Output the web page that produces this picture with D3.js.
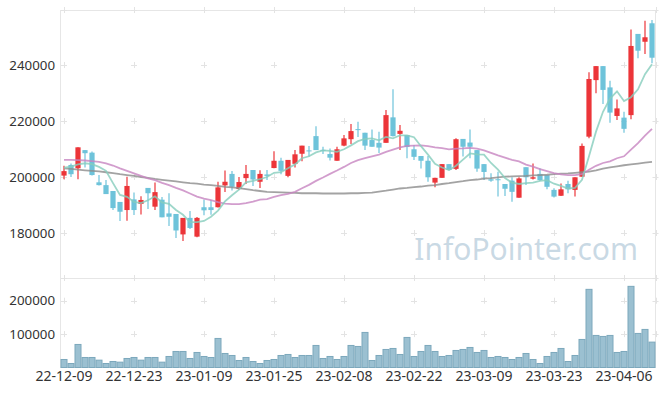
<!DOCTYPE html>
<html>
<head>
<meta charset="utf-8">
<script src="https://cdn.jsdelivr.net/npm/d3@7/dist/d3.min.js"></script>
<style>
body { margin: 0; background: #fff; }
svg { display: block; font-family: "Noto Sans", "DejaVu Sans", sans-serif; }
</style>
</head>
<body>
<svg width="665" height="396"></svg>
<script>
// trading days shown on the chart
var dates = ["22-12-09","22-12-12","22-12-13","22-12-14","22-12-15","22-12-16","22-12-19","22-12-20","22-12-21","22-12-22",
    "22-12-23","22-12-26","22-12-27","22-12-28","22-12-29","23-01-02","23-01-03","23-01-04","23-01-05","23-01-06",
    "23-01-09","23-01-10","23-01-11","23-01-12","23-01-13","23-01-16","23-01-17","23-01-18","23-01-19","23-01-20",
    "23-01-25","23-01-26","23-01-27","23-01-30","23-01-31","23-02-01","23-02-02","23-02-03","23-02-06","23-02-07",
    "23-02-08","23-02-09","23-02-10","23-02-13","23-02-14","23-02-15","23-02-16","23-02-17","23-02-20","23-02-21",
    "23-02-22","23-02-23","23-02-24","23-02-27","23-02-28","23-03-02","23-03-03","23-03-06","23-03-07","23-03-08",
    "23-03-09","23-03-10","23-03-13","23-03-14","23-03-15","23-03-16","23-03-17","23-03-20","23-03-21","23-03-22",
    "23-03-23","23-03-24","23-03-27","23-03-28","23-03-29","23-03-30","23-03-31","23-04-03","23-04-04","23-04-05",
    "23-04-06","23-04-07","23-04-10","23-04-11","23-04-12"];

var openP = [200500,204300,203100,209600,208700,198100,197100,195000,191100,188200,
    192000,190400,196100,189400,191900,187000,186800,179500,185400,178700,
    189200,189200,189200,197000,201100,195700,199600,202500,198300,200900,
    203200,205800,200400,204700,208300,209500,214600,209700,208200,205800,
    211200,213500,217100,215800,213200,212200,212200,221300,215400,215000,
    209900,207500,205800,198000,199700,204600,202900,213600,212300,209600,
    204600,199200,199200,197500,198700,192600,203500,199400,201100,200700,
    195400,193300,197500,195400,200100,214400,234600,239600,232000,221800,
    221200,222100,251100,248300,254900];
var highP = [204000,204800,210600,209600,209100,200700,198900,195000,191100,200100,
    194500,193100,196100,198000,192900,194200,186800,185400,187900,185700,
    192000,191800,198300,202300,202100,200000,204300,202500,202400,202500,
    209200,206900,206100,209600,211200,211100,218100,210800,210200,210800,
    215000,218900,219700,215800,217000,216200,223900,231300,218600,215000,
    211400,207500,207500,199700,204600,204600,213800,213600,217000,209600,
    204600,201300,201900,197500,199900,199900,203500,204800,203100,200700,
    196000,197700,198700,199900,212000,237400,239600,239600,234400,227700,
    223300,252700,251100,255800,256100];
var lowP = [199200,200000,199200,203400,200500,197000,193900,188200,184300,184400,
    186400,186600,188600,188200,185600,182500,178200,177100,181400,178500,
    186300,186500,189100,194600,195200,195400,197500,196800,196100,198900,
    203100,201000,199900,203400,205600,207300,209600,208200,205900,205800,
    211000,211800,214300,209600,210800,208600,212200,214500,209600,206700,
    206100,203000,198300,196300,199700,202300,202500,207300,206700,201900,
    198900,198300,193000,193200,191200,192600,197100,199100,198700,195600,
    192700,193200,194200,193000,200100,213800,229900,226100,219400,220400,
    215800,220600,242400,243900,240600];
var closeP = [202100,201000,210600,208500,200700,197100,193900,188900,187600,196800,
    188200,191800,194200,194600,185600,185800,180900,185400,181800,185400,
    188100,188200,196300,198300,196500,198200,201100,199100,201100,200400,
    205800,202200,206100,208100,211200,209200,209600,209400,206900,209900,
    213800,216400,216800,211200,210800,210500,222100,214600,216500,210700,
    207200,205800,199900,199700,204600,202500,213500,210800,210800,203000,
    201800,198700,198900,195800,194700,199500,199900,199900,198900,196500,
    193000,195600,195600,199900,211100,235000,239600,231100,223000,224500,
    217200,246800,245100,249900,242600];

var volume = [24000,12000,69000,30000,30000,22000,12000,18000,16000,27000,
    30000,22000,30000,30000,16000,33000,48000,48000,27000,45000,
    33000,30000,87000,42000,36000,21000,30000,18000,12000,21000,
    24000,36000,39000,30000,36000,36000,66000,27000,33000,24000,
    33000,66000,63000,105000,21000,36000,54000,57000,39000,90000,
    33000,48000,66000,48000,33000,36000,51000,54000,60000,45000,
    51000,30000,33000,30000,24000,30000,42000,24000,12000,33000,
    45000,57000,18000,36000,84000,234000,96000,93000,96000,45000,
    48000,243000,102000,114000,76000];

var ma5 = [203300,203700,204500,204900,204600,203600,202200,197800,193600,192900,
    191100,190700,191700,193100,190900,190400,188200,186500,183900,183900,
    184300,185800,188000,191300,193500,195500,198100,198600,199200,200000,
    201500,201700,203100,204500,206700,207400,208800,209500,209300,209000,
    209900,211300,212800,213600,213800,213100,214300,213800,214900,214900,
    214200,211000,208000,204700,203400,202500,204000,206200,208400,208100,
    208000,205000,202600,199600,198000,197500,197800,198000,198600,198900,
    197600,196800,195900,196100,199000,207400,216200,223300,228000,230600,
    227100,228500,231300,236700,240300];
var ma20 = [206100,206100,206000,205900,205700,205400,204900,204100,203100,202200,
    201300,200400,199500,198900,197900,197100,196100,195200,194100,193000,
    192300,191700,191000,190500,190300,190300,190700,191200,191900,192100,
    192900,193500,194000,194700,196000,197200,198600,199800,201100,202300,
    203600,205000,206000,206700,207400,208000,209000,209800,210600,211100,
    211200,211300,211000,210600,210300,209900,210100,210200,210400,210100,
    209500,208600,207700,206900,206100,205600,204400,203700,202800,202100,
    201400,200900,200700,200700,201000,202600,204000,205000,205600,206700,
    207400,209800,212100,214800,217200];
var maLong = [203100,202900,202600,202400,202200,202000,201700,201400,201000,200700,
    200400,200000,199700,199300,199000,198700,198400,198100,197800,197600,
    197300,197100,196800,196500,196300,196000,195700,195300,195000,194700,
    194600,194500,194400,194300,194200,194200,194200,194100,194100,194100,
    194100,194200,194200,194300,194400,194800,195100,195500,195900,196100,
    196400,196600,196900,197100,197500,197800,198200,198500,198900,199100,
    199400,199600,199900,200100,200200,200300,200400,200600,200700,200800,
    201000,201200,201300,201500,201700,201900,202400,203000,203400,203800,
    204200,204500,204800,205100,205400];

var priceTicks = [180000, 200000, 220000, 240000];
var volTicks = [100000, 200000];
var dateTicks = [0, 10, 20, 30, 40, 50, 60, 70, 80];

var svg = d3.select("svg");
var left = 60.5, right = 655.5;
var mainTop = 10, mainBottom = 278, volBottom = 367.5;
var frameColor = "#e6e6e6";

var idx = d3.range(dates.length);
var x = d3.scaleBand().domain(idx).range([left, right]).padding(0);
var yMain = d3.scaleLinear().domain([163930, 259640]).range([mainBottom, mainTop]);
var yVol = d3.scaleLinear().domain([0, 268000]).range([volBottom, mainBottom]);

function cx(i){
    return x(i) + x.bandwidth() / 2;
}

// frame
svg.append("rect")
    .attr("x", left).attr("y", mainTop + 0.5)
    .attr("width", right - left).attr("height", volBottom - mainTop - 0.5)
    .attr("fill", "none").attr("stroke", frameColor);
svg.append("line")
    .attr("x1", left).attr("x2", right)
    .attr("y1", mainBottom + 0.5).attr("y2", mainBottom + 0.5)
    .attr("stroke", frameColor);

// little crosses where the grid would be
var crossX = dateTicks.map(cx).concat([right]);
var crossY = priceTicks.map(yMain).concat([mainBottom, mainTop]).concat(volTicks.map(yVol));
var crosses = svg.append("g").attr("stroke", "#e3e3e3").attr("stroke-width", 1);
crossX.forEach(function(px){
    crossY.forEach(function(py){
        crosses.append("line").attr("x1", px - 3).attr("x2", px + 3)
            .attr("y1", Math.round(py) + 0.5).attr("y2", Math.round(py) + 0.5);
        crosses.append("line").attr("x1", Math.round(px) + 0.5).attr("x2", Math.round(px) + 0.5)
            .attr("y1", py - 3).attr("y2", py + 3);
    });
});

// watermark
svg.append("text")
    .attr("x", 638).attr("y", 260)
    .attr("text-anchor", "end")
    .attr("font-size", 30)
    .attr("fill", "#bfd3df")
    .attr("fill-opacity", 0.85)
    .text("InfoPointer.com");

// volume bars
svg.append("g").selectAll("rect").data(idx).enter().append("rect")
    .attr("x", function(i){ return x(i) + 0.5; })
    .attr("width", x.bandwidth() - 1)
    .attr("y", function(i){ return yVol(volume[i]); })
    .attr("height", function(i){ return volBottom - yVol(volume[i]); })
    .attr("fill", "#9bc0d1")
    .attr("stroke", "#7ca8bc")
    .attr("stroke-width", 1);

// candles
var upColor = "#ec3539", downColor = "#6ec3da";
var candles = svg.append("g").selectAll("g").data(idx).enter().append("g");
candles.append("line")
    .attr("x1", function(i){ return cx(i); })
    .attr("x2", function(i){ return cx(i); })
    .attr("y1", function(i){ return yMain(highP[i]); })
    .attr("y2", function(i){ return yMain(lowP[i]); })
    .attr("stroke-width", 1.2)
    .attr("stroke", function(i){ return closeP[i] >= openP[i] ? upColor : downColor; });
candles.append("rect")
    .attr("x", function(i){ return cx(i) - 2.6; })
    .attr("width", 5.2)
    .attr("y", function(i){ return yMain(Math.max(openP[i], closeP[i])); })
    .attr("height", function(i){
        return Math.max(1, yMain(Math.min(openP[i], closeP[i])) - yMain(Math.max(openP[i], closeP[i])));
    })
    .attr("fill", function(i){ return closeP[i] >= openP[i] ? upColor : downColor; });

// moving averages
function drawLine(values, color){
    var line = d3.line()
        .x(function(i){ return cx(i); })
        .y(function(i){ return yMain(values[i]); });
    svg.append("path")
        .datum(idx)
        .attr("d", line)
        .attr("fill", "none")
        .attr("stroke", color)
        .attr("stroke-width", 1.8)
        .attr("stroke-opacity", 0.8);
}
drawLine(maLong, "#8c8c8c");
drawLine(ma20, "#c784c0");
drawLine(ma5, "#86cdbd");

// axes
var yAxis = svg.append("g")
    .attr("transform", "translate(" + (left + 0.5) + ",0)")
    .call(d3.axisLeft(yMain).tickValues(priceTicks).tickSize(0).tickPadding(6).tickFormat(d3.format("d")));
var volAxis = svg.append("g")
    .attr("transform", "translate(" + (left + 0.5) + ",0)")
    .call(d3.axisLeft(yVol).tickValues(volTicks).tickSize(0).tickPadding(6).tickFormat(d3.format("d")));
var xAxis = svg.append("g")
    .attr("transform", "translate(0," + volBottom + ")")
    .call(d3.axisBottom(x).tickValues(dateTicks).tickSize(0).tickPadding(4)
        .tickFormat(function(i){ return dates[i]; }));

[yAxis, volAxis].forEach(function(a){
    a.select(".domain").remove();
    a.selectAll("text")
        .attr("font-family", "'Noto Sans', sans-serif")
        .attr("font-size", 13.3)
        .attr("fill", "#333");
});
xAxis.select(".domain").remove();
xAxis.selectAll("text")
    .attr("font-family", "'Noto Sans', sans-serif")
    .attr("font-size", 14)
    .attr("fill", "#333");
</script>
</body>
</html>
